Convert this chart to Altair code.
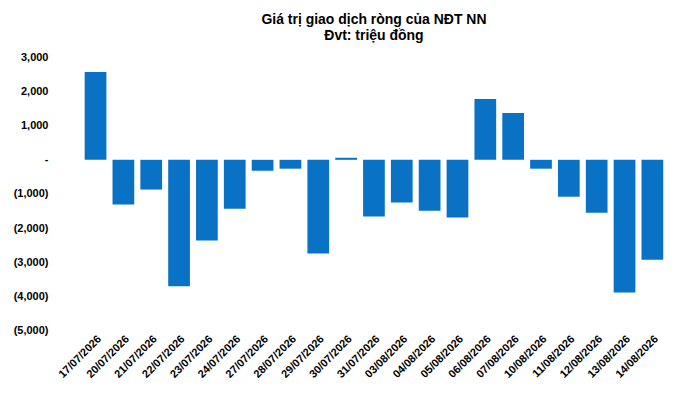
import altair as alt
import pandas as pd

dates = ["17/07/2026","20/07/2026","21/07/2026","22/07/2026","23/07/2026","24/07/2026","27/07/2026","28/07/2026","29/07/2026","30/07/2026","31/07/2026","03/08/2026","04/08/2026","05/08/2026","06/08/2026","07/08/2026","10/08/2026","11/08/2026","12/08/2026","13/08/2026","14/08/2026"]
values = [2570,-1310,-870,-3700,-2360,-1430,-320,-260,-2740,60,-1660,-1250,-1490,-1690,1780,1370,-260,-1080,-1550,-3880,-2920]

df = pd.DataFrame({"date": dates, "value": values})

label_expr = "datum.value == 0 ? '-' : (datum.value < 0 ? '(' + format(-datum.value, ',') + ')' : format(datum.value, ','))"

chart = alt.Chart(df).mark_bar(color="#0a72c4").encode(
    x=alt.X("date:N", sort=None, title=None,
            scale=alt.Scale(paddingInner=0.22, paddingOuter=0.1),
            axis=alt.Axis(labelAngle=-45, labelFont="Arial", labelFontWeight="bold",
                          labelFontSize=11, labelColor="black", ticks=False, domain=False)),
    y=alt.Y("value:Q", title=None,
            scale=alt.Scale(domain=[-5000, 3000]),
            axis=alt.Axis(values=list(range(-5000, 3001, 1000)), labelExpr=label_expr,
                          grid=False, domain=False, ticks=False, labelFont="Arial",
                          labelFontWeight="bold", labelFontSize=11, labelColor="black",
                          labelPadding=34)),
).properties(
    width=585, height=274,
    title=alt.TitleParams(["Giá trị giao dịch ròng của NĐT NN", "Đvt: triệu đồng"],
                          font="Arial", fontSize=14, fontWeight="bold", color="black",
                          anchor="middle", offset=8),
).configure_view(stroke=None)

chart.save("out.html", embed_options={"renderer": "svg", "actions": False})
